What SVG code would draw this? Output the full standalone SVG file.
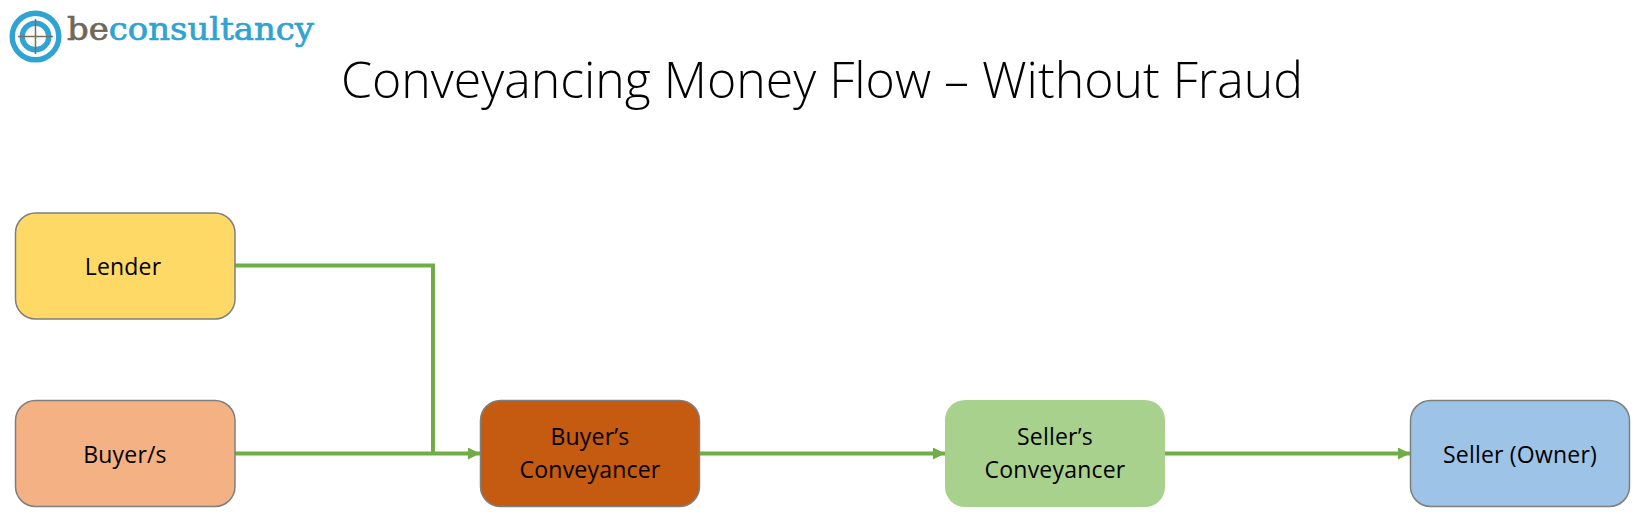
<svg xmlns="http://www.w3.org/2000/svg" width="1646" height="532" viewBox="0 0 1646 532">
<style>
text{font-family:"Open Sans","Noto Sans",sans-serif;fill:#000;text-anchor:middle}
.n{stroke:#7f7f7f;stroke-width:1.5}
.l{font-size:23px;letter-spacing:.2px}
.c{fill:none;stroke:#70ad47;stroke-width:4}
.logo{font-family:"DejaVu Serif",serif;font-size:31px;font-weight:400;text-anchor:start;stroke-width:.7}
</style>
<defs><marker id="a" markerUnits="userSpaceOnUse" markerWidth="13" markerHeight="13" refX="12" refY="6" orient="auto"><path d="M0 0L12 6L0 12z" fill="#70ad47"/></marker></defs>
<rect width="1646" height="532" fill="#fff"/>
<g id="logo">
<circle cx="35.500" cy="36.500" r="23.300" fill="none" stroke="#2fa3d1" stroke-width="5.400"/>
<circle cx="35.500" cy="36.500" r="13.300" fill="#fff" stroke="#2fa3d1" stroke-width="5.400"/>
<path d="M35.500 19V54M18 36.500H53" stroke="#7a6f5d" stroke-width="1.500"/>
<text class="logo" x="67" y="40" textLength="247" lengthAdjust="spacingAndGlyphs"><tspan fill="#6f675a" stroke="#6f675a">be</tspan><tspan fill="#2fa3d1" stroke="#2fa3d1">consultancy</tspan></text>
</g>
<text id="title" x="822" y="98" font-size="50" font-weight="300">Conveyancing Money Flow – Without Fraud</text>
<g id="connectors">
<path class="c" d="M235 265.500H433V453.500"/>
<path class="c" d="M235 453.500H480" marker-end="url(#a)"/>
<path class="c" d="M700 453.500H945" marker-end="url(#a)"/>
<path class="c" d="M1165 453.500H1410" marker-end="url(#a)"/>
</g>
<g id="lender"><rect class="n" x="15.500" y="213" width="219.500" height="106" rx="20" fill="#ffd966"/><text class="l" x="123" y="275">Lender</text></g>
<g id="buyer"><rect class="n" x="15.500" y="400.500" width="219.500" height="106" rx="20" fill="#f4b183"/><text class="l" x="125" y="463">Buyer/s</text></g>
<g id="buyers-conveyancer"><rect class="n" x="480.500" y="400.500" width="219" height="106" rx="20" fill="#c55a11"/><text class="l" x="590" y="445">Buyer’s</text><text class="l" x="590" y="478">Conveyancer</text></g>
<g id="sellers-conveyancer"><rect x="945" y="400" width="220" height="107" rx="20" fill="#a9d18e"/><text class="l" x="1055" y="445">Seller’s</text><text class="l" x="1055" y="478">Conveyancer</text></g>
<g id="seller"><rect class="n" x="1410.500" y="400.500" width="219" height="106" rx="20" fill="#9dc3e6"/><text class="l" x="1520" y="463">Seller (Owner)</text></g>
</svg>
